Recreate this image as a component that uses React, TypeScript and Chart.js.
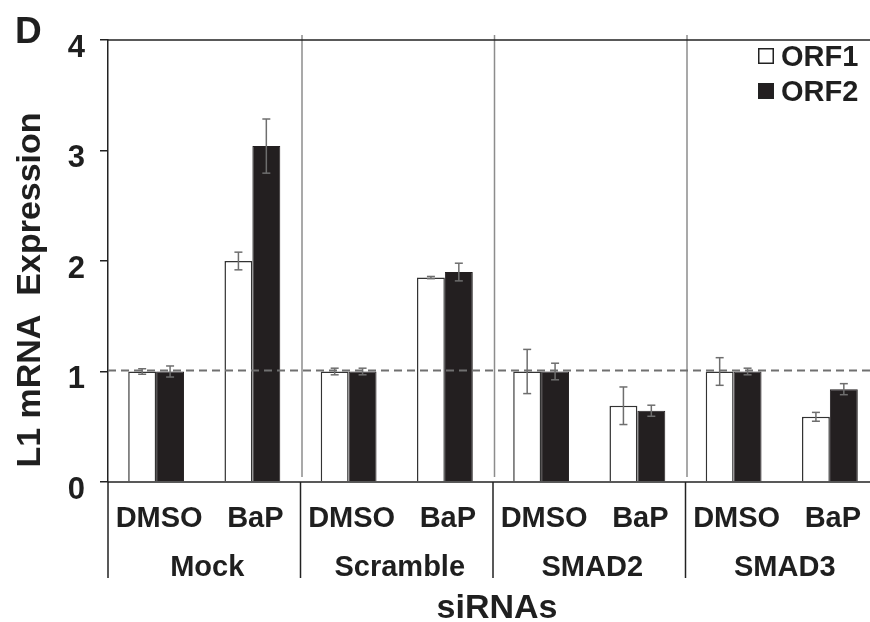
import { useEffect, useRef } from "react";
import { Chart, registerables } from "chart.js";

Chart.register(...registerables);

// ---- data ----
const treatments = ["DMSO", "BaP", "DMSO", "BaP", "DMSO", "BaP", "DMSO", "BaP"];
const groups = ["Mock", "Scramble", "SMAD2", "SMAD3"];
const seriesNames = ["ORF1", "ORF2"];
const orf1 = [1.0, 2.0, 1.0, 1.85, 1.0, 0.69, 1.0, 0.59];
const orf1Err = [0.025, 0.08, 0.03, 0.01, 0.2, 0.17, 0.125, 0.04];
const orf2 = [1.0, 3.04, 1.0, 1.9, 1.0, 0.645, 1.0, 0.84];
const orf2Err = [0.05, 0.245, 0.03, 0.08, 0.075, 0.05, 0.03, 0.05];
const yMin = 0;
const yMax = 4;
const yStep = 1;
const referenceLevel = 1.01;
const panelLetter = "D";
const yTitle = "L1 mRNA  Expression";
const xTitle = "siRNAs";

const FONT = '"Liberation Sans", Arial, Helvetica, sans-serif';
const TEXT = "#1f1f1f";
const DARK = "#231f20";

function seg(ctx: CanvasRenderingContext2D, x1: number, y1: number, x2: number, y2: number) {
  ctx.beginPath();
  ctx.moveTo(x1, y1);
  ctx.lineTo(x2, y2);
  ctx.stroke();
}

const decorPlugin = {
  id: "decor",
  beforeDatasetsDraw(chart: any) {
    const { ctx, chartArea: a, scales } = chart;
    const x = scales.x;
    ctx.save();
    ctx.strokeStyle = "#8c8c8c";
    ctx.lineWidth = 1.5;
    for (let g = 1; g < groups.length; g++) {
      const i = g * 2;
      const bx = (x.getPixelForValue(i - 1) + x.getPixelForValue(i)) / 2 + 1.5;
      seg(ctx, bx, a.top - 5, bx, a.bottom - 5);
    }
    ctx.restore();
  },
  afterDatasetsDraw(chart: any) {
    const { ctx, chartArea: a, scales } = chart;
    const x = scales.x;
    const y = scales.y;
    ctx.save();

    // error bars
    ctx.strokeStyle = "#6e6e6e";
    ctx.lineWidth = 1.5;
    chart.data.datasets.forEach((ds: any, di: number) => {
      const meta = chart.getDatasetMeta(di);
      meta.data.forEach((bar: any, i: number) => {
        const v = ds.data[i];
        const e = ds.errors[i];
        const yt = y.getPixelForValue(v + e);
        const yb = y.getPixelForValue(v - e);
        const cx = bar.x;
        seg(ctx, cx, yt, cx, yb);
        seg(ctx, cx - 4, yt, cx + 4, yt);
        seg(ctx, cx - 4, yb, cx + 4, yb);
      });
    });

    // dashed reference line
    ctx.strokeStyle = "#707070";
    ctx.lineWidth = 2;
    ctx.setLineDash([8, 5]);
    const ry = y.getPixelForValue(referenceLevel);
    seg(ctx, a.left, ry, a.right, ry);
    ctx.setLineDash([]);

    // axes frame
    ctx.strokeStyle = "#222";
    ctx.lineWidth = 1.5;
    seg(ctx, a.left, a.top, a.right, a.top);
    seg(ctx, a.left, a.bottom, a.right, a.bottom);
    // group separators below axis
    const sepBottom = a.bottom + 96;
    seg(ctx, a.left, a.bottom, a.left, sepBottom);
    seg(ctx, a.right, a.bottom, a.right, sepBottom);
    for (let g = 1; g < groups.length; g++) {
      const i = g * 2;
      const bx = (x.getPixelForValue(i - 1) + x.getPixelForValue(i)) / 2;
      seg(ctx, bx, a.bottom, bx, sepBottom);
    }

    // category labels
    ctx.fillStyle = TEXT;
    ctx.textAlign = "center";
    ctx.textBaseline = "alphabetic";
    ctx.font = `bold 29px ${FONT}`;
    treatments.forEach((t, i) => {
      ctx.fillText(t, x.getPixelForValue(i) + 3, a.bottom + 45);
    });
    groups.forEach((g, gi) => {
      const cx = (x.getPixelForValue(gi * 2) + x.getPixelForValue(gi * 2 + 1)) / 2 + 3;
      ctx.fillText(g, cx, a.bottom + 94);
    });

    // x title
    ctx.font = `bold 34px ${FONT}`;
    ctx.fillText(xTitle, (a.left + a.right) / 2 + 4, a.bottom + 136);

    // y title
    ctx.save();
    ctx.translate(40, 290);
    ctx.rotate(-Math.PI / 2);
    ctx.textAlign = "center";
    ctx.font = `bold 34px ${FONT}`;
    ctx.fillText(yTitle, 0, 0);
    ctx.restore();

    // panel letter
    ctx.textAlign = "left";
    ctx.font = `bold 37px ${FONT}`;
    ctx.fillText(panelLetter, 15, 43);

    // legend
    ctx.font = `bold 29px ${FONT}`;
    chart.data.datasets.forEach((ds: any, di: number) => {
      const by = 48 + di * 35;
      ctx.fillStyle = ds.backgroundColor;
      ctx.fillRect(758, by, 16, 16);
      ctx.strokeStyle = "#222";
      ctx.lineWidth = 1.5;
      ctx.strokeRect(758.75, by + 0.75, 14.5, 14.5);
      ctx.fillStyle = TEXT;
      ctx.fillText(ds.label, 781, by + 18);
    });

    ctx.restore();
  },
};

export default function App() {
  const ref = useRef<HTMLCanvasElement | null>(null);

  useEffect(() => {
    if (!ref.current) return;
    const chart = new Chart(ref.current, {
      type: "bar",
      data: {
        labels: treatments,
        datasets: [
          {
            label: seriesNames[0],
            data: orf1,
            errors: orf1Err,
            backgroundColor: "#ffffff",
            borderColor: "#333333",
            borderWidth: 1.5,
            categoryPercentage: 0.58,
            barPercentage: 1.0,
          } as any,
          {
            label: seriesNames[1],
            data: orf2,
            errors: orf2Err,
            backgroundColor: DARK,
            borderColor: DARK,
            borderWidth: 1,
            categoryPercentage: 0.58,
            barPercentage: 1.0,
          } as any,
        ],
      },
      options: {
        animation: false,
        responsive: false,
        maintainAspectRatio: false,
        layout: { padding: { left: 0, right: 12, top: 40, bottom: 140 } },
        plugins: {
          legend: { display: false },
          tooltip: { enabled: false },
        },
        scales: {
          x: { display: false },
          y: {
            min: yMin,
            max: yMax,
            ticks: {
              stepSize: yStep,
              color: TEXT,
              font: { family: FONT, size: 31, weight: "bold" },
              padding: 15,
              labelOffset: 8,
            },
            grid: {
              drawOnChartArea: false,
              drawTicks: true,
              tickLength: 8,
              color: "#222",
              lineWidth: 1.5,
            },
            border: { display: true, color: "#222", width: 1.5 },
            afterFit: (scale: any) => {
              scale.width = 108;
            },
          },
        },
      },
      plugins: [decorPlugin],
    } as any);
    return () => chart.destroy();
  }, []);

  return (
    <div
      style={{
        position: "absolute",
        left: 0,
        top: 0,
        width: 870,
        height: 622,
        overflow: "hidden",
        background: "#fff",
      }}
    >
      <canvas ref={ref} width={890} height={622} style={{ width: 890, height: 622, display: "block" }} />
    </div>
  );
}
